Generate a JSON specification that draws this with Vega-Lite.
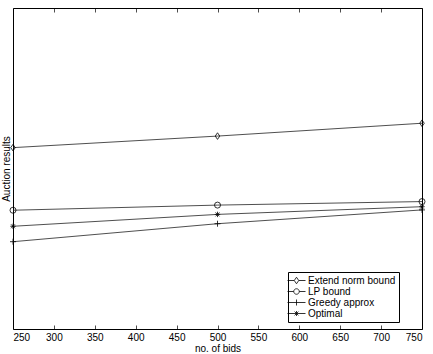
{
  "$schema": "https://vega.github.io/schema/vega-lite/v6.json",
  "width": 409,
  "height": 321,
  "autosize": {"type": "none"},
  "padding": {"left": 13, "top": 8, "right": 11, "bottom": 25},
  "background": "white",
  "config": {
    "view": {"stroke": "#000", "strokeWidth": 1},
    "font": "Liberation Sans",
    "axis": {
      "labelFont": "Liberation Sans",
      "titleFont": "Liberation Sans",
      "labelFontSize": 10,
      "titleFontSize": 10,
      "titleFontWeight": "normal",
      "labelColor": "#000",
      "titleColor": "#000",
      "grid": false,
      "domain": false,
      "tickColor": "#000",
      "tickWidth": 0.7
    }
  },
  "data": {
    "values": [
      {"series": "Extend norm bound", "bids": 250, "value": 5.65},
      {"series": "Extend norm bound", "bids": 500, "value": 6.01},
      {"series": "Extend norm bound", "bids": 750, "value": 6.41},
      {"series": "LP bound", "bids": 250, "value": 3.70},
      {"series": "LP bound", "bids": 500, "value": 3.86},
      {"series": "LP bound", "bids": 750, "value": 3.97},
      {"series": "Greedy approx", "bids": 250, "value": 2.72},
      {"series": "Greedy approx", "bids": 500, "value": 3.28},
      {"series": "Greedy approx", "bids": 750, "value": 3.71},
      {"series": "Optimal", "bids": 250, "value": 3.20},
      {"series": "Optimal", "bids": 500, "value": 3.57},
      {"series": "Optimal", "bids": 750, "value": 3.81}
    ]
  },
  "encoding": {
    "y": {
      "field": "value",
      "type": "quantitative",
      "scale": {"domain": [0, 10], "nice": false, "zero": false},
      "axis": {"title": "Auction results", "labels": false, "ticks": false, "titlePadding": 2}
    }
  },
  "layer": [
    {
      "mark": {"type": "line", "stroke": "#222", "strokeWidth": 0.8},
      "encoding": {
        "x": {
          "field": "bids",
          "type": "quantitative",
          "scale": {"domain": [250, 750], "nice": false, "zero": false},
          "axis": {
            "orient": "bottom",
            "values": [250, 300, 350, 400, 450, 500, 550, 600, 650, 700, 750],
            "title": "no. of bids",
            "tickSize": -4,
            "labelPadding": 7,
            "titlePadding": 1
          }
        },
        "detail": {"field": "series"}
      }
    },
    {
      "mark": {"type": "point", "filled": false, "stroke": "#000", "strokeWidth": 0.8, "size": 36, "opacity": 1},
      "encoding": {
        "x": {
          "field": "bids",
          "type": "quantitative",
          "axis": {
            "orient": "top",
            "values": [250, 300, 350, 400, 450, 500, 550, 600, 650, 700, 750],
            "title": null,
            "labels": false,
            "tickSize": -4
          }
        },
        "shape": {
          "field": "series",
          "scale": {
            "domain": ["Extend norm bound", "LP bound", "Greedy approx", "Optimal"],
            "range": [
              "M0,-1.1L0.75,0L0,1.1L-0.75,0Z",
              "circle",
              "M-1,0L1,0M0,-1L0,1",
              "M-0.9,0L0.9,0M0,-0.9L0,0.9M-0.65,-0.65L0.65,0.65M-0.65,0.65L0.65,-0.65"
            ]
          },
          "legend": null
        }
      }
    },
    {
      "mark": {"type": "point", "filled": false, "stroke": "#000", "strokeWidth": 0.8, "opacity": 0},
      "encoding": {
        "x": {"field": "bids", "type": "quantitative", "axis": null},
        "shape": {
          "field": "series",
          "scale": {
            "domain": ["Extend norm bound", "LP bound", "Greedy approx", "Optimal"],
            "range": [
              "M-1.8,0L-0.45,0M0.45,0L1.8,0M0,-0.65L0.45,0L0,0.65L-0.45,0Z",
              "M-1.8,0L-0.55,0M0.55,0L1.8,0M0.55,0A0.55,0.55,0,1,1,-0.55,0A0.55,0.55,0,1,1,0.55,0",
              "M-1.8,0L1.8,0M0,-0.6L0,0.6",
              "M-1.8,0L1.8,0M0,-0.5L0,0.5M-0.38,-0.38L0.38,0.38M-0.38,0.38L0.38,-0.38"
            ]
          },
          "legend": {
            "title": null,
            "orient": "none",
            "legendX": 275,
            "legendY": 264,
            "symbolSize": 100,
            "symbolOpacity": 1,
            "symbolStrokeColor": "#000",
            "symbolFillColor": "transparent",
            "symbolStrokeWidth": 0.8,
            "labelFont": "Liberation Sans",
            "labelFontSize": 10,
            "labelColor": "#000",
            "labelOffset": 6,
            "strokeColor": "#000",
            "fillColor": "#fff",
            "padding": 3,
            "rowPadding": -1.7
          }
        }
      }
    }
  ],
  "resolve": {"scale": {"shape": "independent"}, "axis": {"x": "independent"}}
}
